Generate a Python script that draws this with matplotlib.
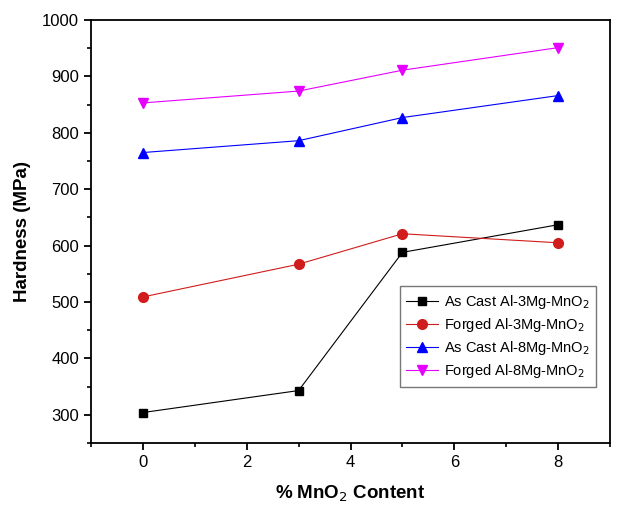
import matplotlib.pyplot as plt
from matplotlib.ticker import MultipleLocator

plt.rcParams['font.family'] = ['Liberation Sans', 'DejaVu Sans']

mno2 = [0, 3, 5, 8]
cast_3mg = [304, 343, 588, 637]
forged_3mg = [509, 567, 621, 605]
cast_8mg = [765, 786, 827, 866]
forged_8mg = [853, 874, 911, 951]

fig = plt.figure(figsize=(6.27, 5.09), dpi=100)
ax = fig.add_axes([91/627, 1 - 443/509, (610 - 91)/627, (443 - 20)/509])

ax.plot(mno2, cast_3mg, color="black", lw=0.8, marker="s", ms=6, label=r"As Cast Al-3Mg-MnO$_2$")
ax.plot(mno2, forged_3mg, color="#d01c1c", lw=0.8, marker="o", ms=7, label=r"Forged Al-3Mg-MnO$_2$")
ax.plot(mno2, cast_8mg, color="blue", lw=0.8, marker="^", ms=7.5, label=r"As Cast Al-8Mg-MnO$_2$")
ax.plot(mno2, forged_8mg, color="#e600ff", lw=0.8, marker="v", ms=7.5, label=r"Forged Al-8Mg-MnO$_2$")

ax.set_xlim(-1, 9)
ax.set_ylim(250, 1000)
ax.xaxis.set_major_locator(MultipleLocator(2))
ax.xaxis.set_minor_locator(MultipleLocator(1))
ax.yaxis.set_major_locator(MultipleLocator(100))
ax.yaxis.set_minor_locator(MultipleLocator(50))
ax.tick_params(which="major", direction="out", length=5, width=1.3, labelsize=12)
ax.tick_params(which="minor", direction="out", length=3, width=1.2)
for s in ax.spines.values():
    s.set_linewidth(1.3)

ax.set_xlabel(r"% MnO$_2$ Content", fontsize=13.5, fontweight="bold", labelpad=10)
ax.set_ylabel("Hardness (MPa)", fontsize=13.5, fontweight="bold", labelpad=8)

ax.legend(loc="lower right", bbox_to_anchor=(0.988, 0.116), fontsize=10.5, frameon=True,
          fancybox=False, edgecolor="#555555", handlelength=2.2, handletextpad=0.4,
          labelspacing=0.35, borderpad=0.45)

fig.savefig("out.png", dpi=100)
